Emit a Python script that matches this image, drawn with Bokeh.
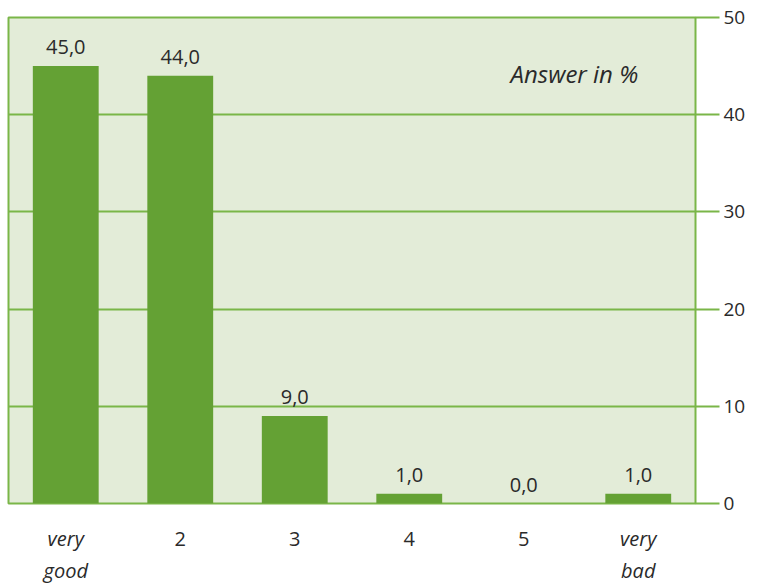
from bokeh.plotting import figure
from bokeh.layouts import column
from bokeh.models import ColumnDataSource, LinearAxis, FixedTicker, Range1d, Label
from bokeh.core.properties import value
from bokeh.embed import file_html
from bokeh.resources import INLINE

# Survey results: share of answers per rating (percent)
categories = ["very good", "2", "3", "4", "5", "very bad"]
category_lines = [["very", "good"], ["2"], ["3"], ["4"], ["5"], ["very", "bad"]]
category_italic = [True, False, False, False, False, True]
values = [45.0, 44.0, 9.0, 1.0, 0.0, 1.0]
y_ticks = [0, 10, 20, 30, 40, 50]
note_text = "Answer in %"

FONT = "Open Sans"
TEXT_COLOR = "#2a2a2a"
BAR_COLOR = "#64a134"
LINE_COLOR = "#7ab648"
BG_COLOR = "#e3ecd8"

xs = [i + 0.5 for i in range(len(categories))]
labels = [f"{v:.1f}".replace(".", ",") for v in values]
source = ColumnDataSource(data=dict(x=xs, top=values, label=labels))

p = figure(width=757, height=515, output_backend="svg", toolbar_location=None,
           x_range=Range1d(0, len(categories)), y_range=Range1d(0, 50),
           min_border_left=8, min_border_right=62, min_border_top=17,
           min_border_bottom=12)
p.xaxis.visible = False
p.yaxis.visible = False
p.background_fill_color = BG_COLOR
p.border_fill_color = "white"
p.outline_line_color = LINE_COLOR
p.outline_line_width = 2

p.xgrid.grid_line_color = None
p.ygrid.ticker = FixedTicker(ticks=y_ticks)
p.ygrid.grid_line_color = LINE_COLOR
p.ygrid.grid_line_width = 2

p.vbar(x="x", top="top", width=0.575, bottom=0, source=source,
       fill_color=BAR_COLOR, line_color=None)

# value labels above the bars
p.text(x="x", y="top", text="label", source=source, text_align="center",
       text_baseline="alphabetic", y_offset=-19, text_font=value(FONT),
       text_font_size="20px", text_color=TEXT_COLOR)

# right axis whose ticks continue the gridlines past the frame
ax = LinearAxis(ticker=FixedTicker(ticks=y_ticks))
ax.axis_line_color = None
ax.major_tick_line_color = LINE_COLOR
ax.major_tick_line_width = 2
ax.major_tick_in = 0
ax.major_tick_out = 24
ax.minor_tick_line_color = None
ax.major_label_standoff = 4
ax.major_label_text_font = FONT
ax.major_label_text_font_size = "19px"
ax.major_label_text_color = TEXT_COLOR
p.add_layout(ax, "right")

# note in the upper right of the plot
p.add_layout(Label(x=5.5, y=44.2, text=note_text, text_align="right",
                   text_baseline="alphabetic", text_font=FONT,
                   text_font_style="italic", text_font_size="24px",
                   text_color=TEXT_COLOR))

# category labels in a strip under the chart, sharing its x range
cx, cy, ctext, cstyle = [], [], [], []
for x, lines, italic in zip(xs, category_lines, category_italic):
    for j, line in enumerate(lines):
        cx.append(x)
        cy.append(23 + 32 * j)
        ctext.append(line)
        cstyle.append("italic" if italic else "normal")
cat_source = ColumnDataSource(data=dict(x=cx, y=cy, text=ctext, style=cstyle))

q = figure(width=757, height=69, output_backend="svg", toolbar_location=None,
           x_range=p.x_range, y_range=Range1d(69, 0),
           min_border_left=8, min_border_right=62, min_border_top=0,
           min_border_bottom=0)
q.axis.visible = False
q.grid.grid_line_color = None
q.outline_line_color = None
q.background_fill_color = "white"
q.text(x="x", y="y", text="text", source=cat_source, text_align="center",
       text_baseline="alphabetic", text_font=value(FONT),
       text_font_style="style", text_font_size="20px", text_color=TEXT_COLOR)

layout = column(p, q, spacing=0)
open("out.html", "w").write(file_html(layout, INLINE))
